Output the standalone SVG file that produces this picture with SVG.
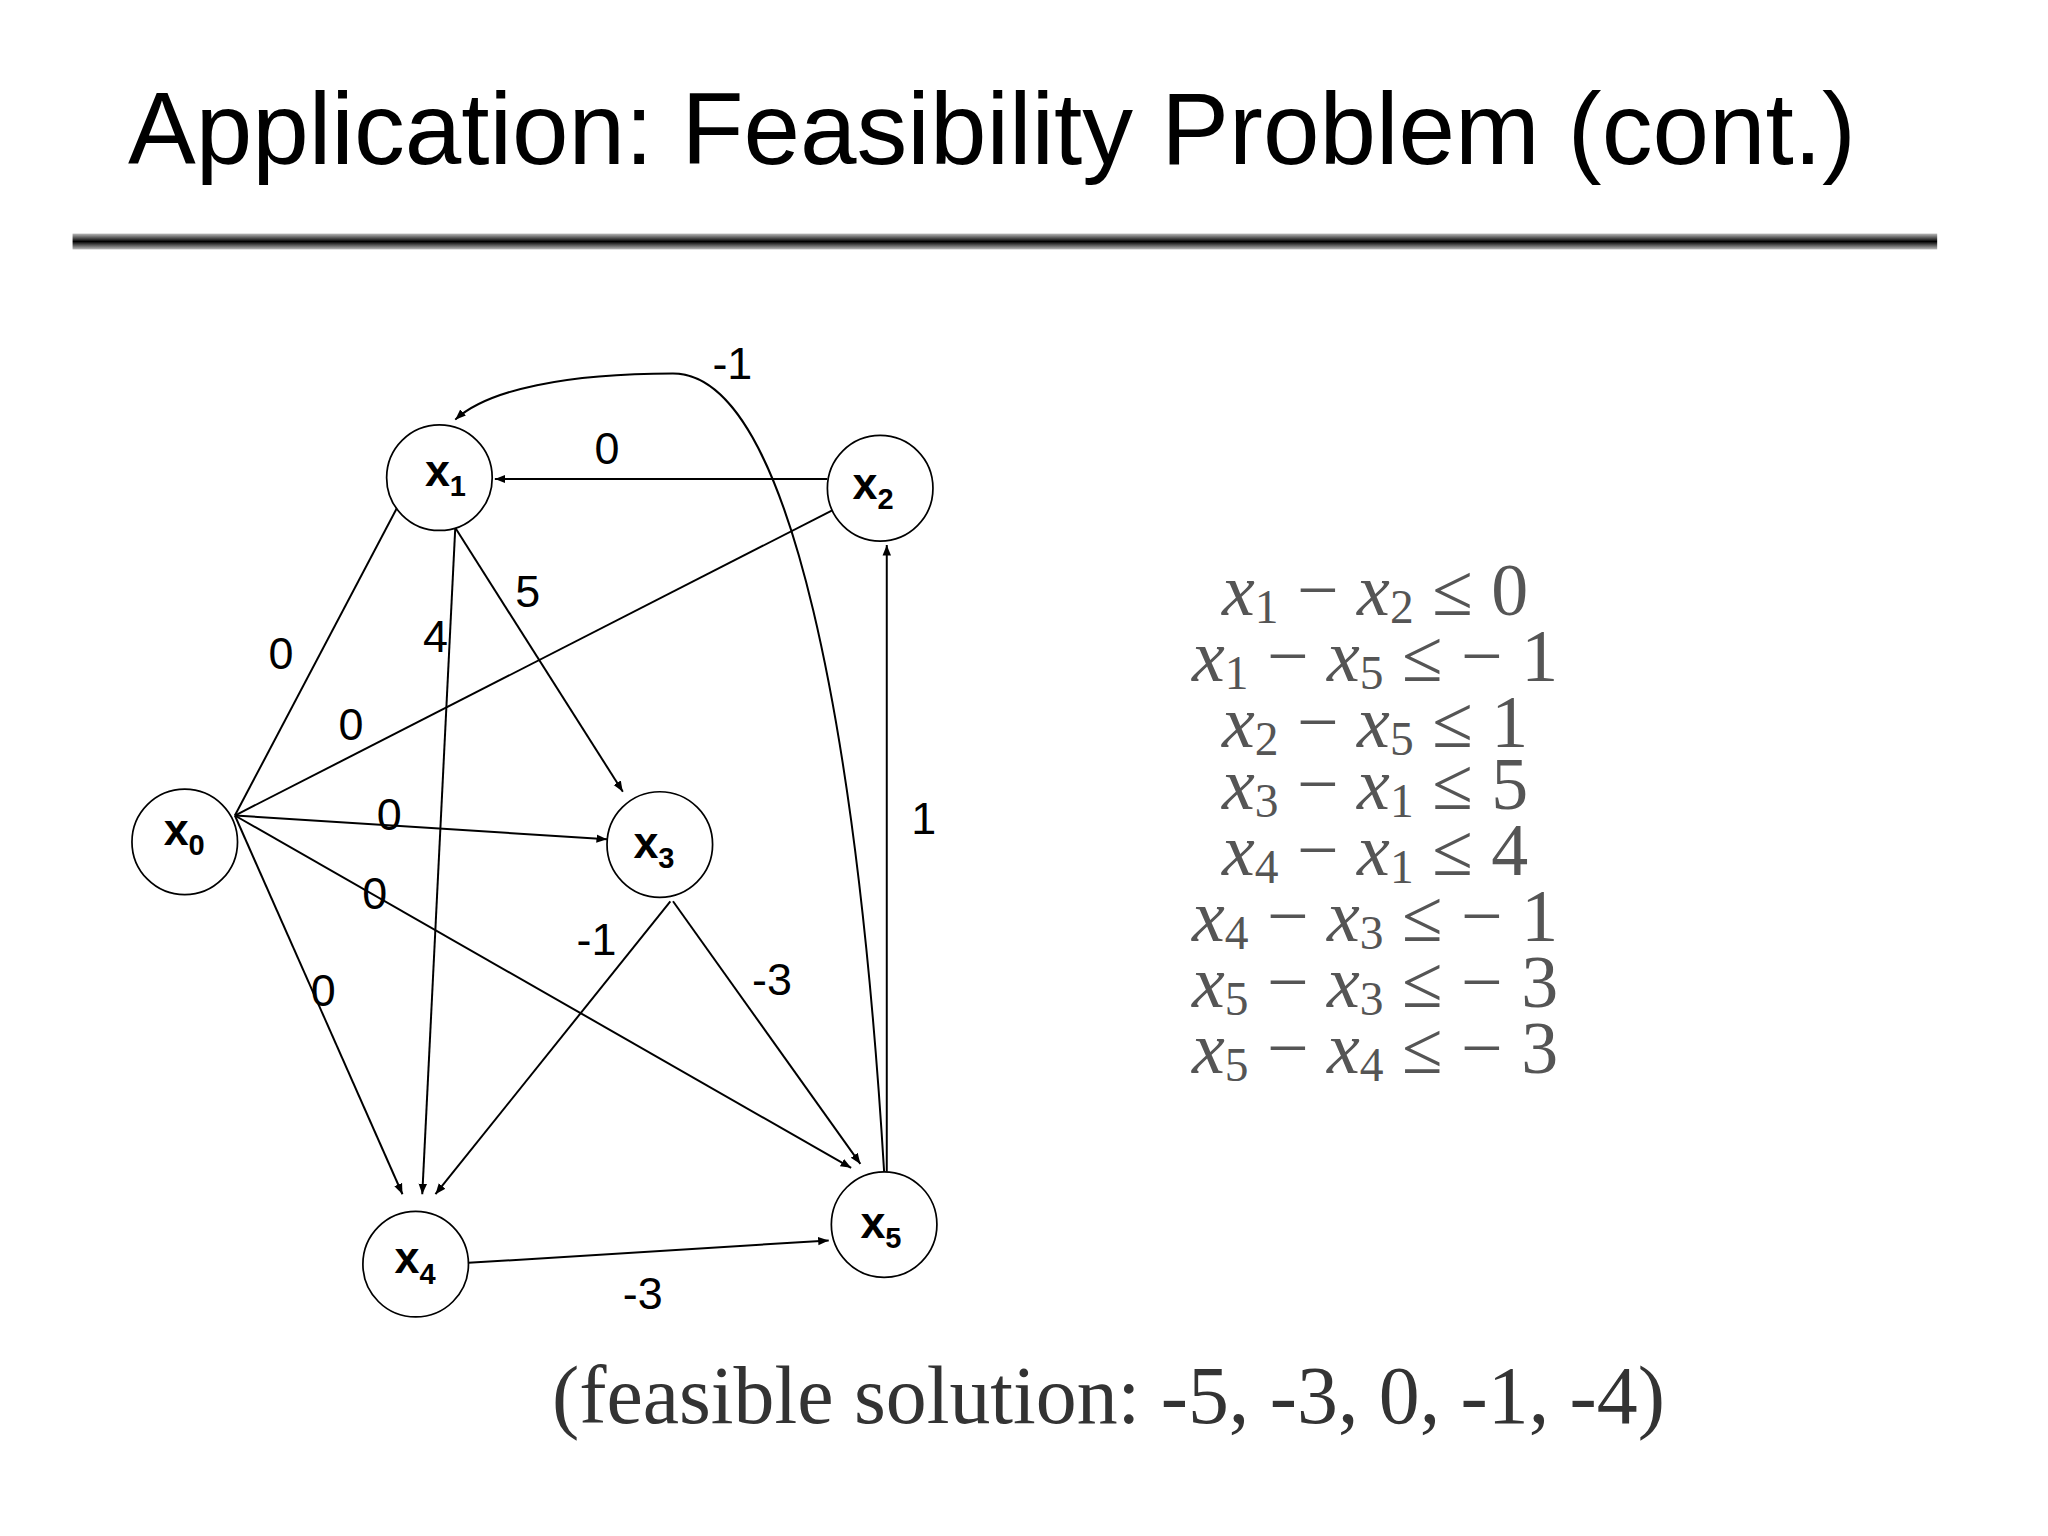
<svg xmlns="http://www.w3.org/2000/svg" width="2048" height="1536" viewBox="0 0 2048 1536">
<style>
.n{fill:#fff;stroke:#000;stroke-width:1.3}
.nl{font-family:"Liberation Sans",Arial,sans-serif;font-weight:bold;font-size:34px}
.sub{font-size:22px}
.e{fill:none;stroke:#000;stroke-width:1.5;marker-end:url(#a)}
.l{font-family:"Liberation Sans",Arial,sans-serif;font-size:34px;text-anchor:middle}
.eq{font-family:"Liberation Serif","Times New Roman",serif;font-size:56px;fill:#555;text-anchor:middle}
.s{font-size:36px}
</style>
<defs>
<marker id="a" viewBox="0 0 10 10" refX="10" refY="5" markerWidth="8" markerHeight="8" orient="auto" markerUnits="userSpaceOnUse"><path d="M0,1 L10,5 L0,9 z" fill="#000"/></marker>
<linearGradient id="bar" x1="0" y1="0" x2="0" y2="1"><stop offset="0" stop-color="#bbb"/><stop offset="0.5" stop-color="#000"/><stop offset="1" stop-color="#bbb"/></linearGradient>
</defs>
<rect width="2048" height="1536" fill="#fff"/>
<g transform="scale(1.3196)">
<text x="97" y="124" font-family="Liberation Sans,Arial,sans-serif" font-size="77">Application: Feasibility Problem (cont.)</text>
<rect x="55" y="177" width="1413" height="12" fill="url(#bar)"/>
<g id="edges">
<path class="e" d="M178,618 L305,377"/>
<path class="e" d="M178,618 L640,382"/>
<path class="e" d="M178,618 L460,636"/>
<path class="e" d="M178,618 L645,885"/>
<path class="e" d="M178,618 L305,905"/>
<path class="e" d="M627,363 L375,363"/>
<path class="e" d="M345,400 L472,600"/>
<path class="e" d="M345,400 L320,905"/>
<path class="e" d="M508,683 L330,905"/>
<path class="e" d="M510,683 L652,882"/>
<path class="e" d="M672,888 L672,413"/>
<path class="e" d="M355,957 L628,940"/>
<path class="e" d="M670,888 C650,560 600,283 510,283 C430,283 370,295 345,318"/>
</g>
<g id="x1"><circle class="n" cx="333" cy="362" r="40"/><text class="nl" x="322" y="368">x<tspan class="sub" dy="8">1</tspan></text></g>
<g id="x2"><circle class="n" cx="667" cy="370" r="40"/><text class="nl" x="646" y="378">x<tspan class="sub" dy="8">2</tspan></text></g>
<g id="x0"><circle class="n" cx="140" cy="638" r="40"/><text class="nl" x="124" y="640">x<tspan class="sub" dy="8">0</tspan></text></g>
<g id="x3"><circle class="n" cx="500" cy="640" r="40"/><text class="nl" x="480" y="650">x<tspan class="sub" dy="8">3</tspan></text></g>
<g id="x4"><circle class="n" cx="315" cy="958" r="40"/><text class="nl" x="299" y="965">x<tspan class="sub" dy="8">4</tspan></text></g>
<g id="x5"><circle class="n" cx="670" cy="928" r="40"/><text class="nl" x="652" y="938">x<tspan class="sub" dy="8">5</tspan></text></g>
<g id="labels">
<text class="l" x="555" y="287">-1</text>
<text class="l" x="460" y="352">0</text>
<text class="l" x="400" y="460">5</text>
<text class="l" x="330" y="494">4</text>
<text class="l" x="213" y="507">0</text>
<text class="l" x="266" y="561">0</text>
<text class="l" x="295" y="629">0</text>
<text class="l" x="700" y="632">1</text>
<text class="l" x="284" y="689">0</text>
<text class="l" x="452" y="724">-1</text>
<text class="l" x="585" y="754">-3</text>
<text class="l" x="245" y="762">0</text>
<text class="l" x="487" y="992">-3</text>
</g>
<g id="eqs" class="eq">
<text x="1042" y="466"><tspan font-style="italic">x</tspan><tspan class="s" dy="6">1</tspan><tspan dy="-6"> − </tspan><tspan font-style="italic">x</tspan><tspan class="s" dy="6">2</tspan><tspan dy="-6"> ≤ 0</tspan></text>
<text x="1042" y="516"><tspan font-style="italic">x</tspan><tspan class="s" dy="6">1</tspan><tspan dy="-6"> − </tspan><tspan font-style="italic">x</tspan><tspan class="s" dy="6">5</tspan><tspan dy="-6"> ≤ − 1</tspan></text>
<text x="1042" y="566"><tspan font-style="italic">x</tspan><tspan class="s" dy="6">2</tspan><tspan dy="-6"> − </tspan><tspan font-style="italic">x</tspan><tspan class="s" dy="6">5</tspan><tspan dy="-6"> ≤ 1</tspan></text>
<text x="1042" y="613"><tspan font-style="italic">x</tspan><tspan class="s" dy="6">3</tspan><tspan dy="-6"> − </tspan><tspan font-style="italic">x</tspan><tspan class="s" dy="6">1</tspan><tspan dy="-6"> ≤ 5</tspan></text>
<text x="1042" y="663"><tspan font-style="italic">x</tspan><tspan class="s" dy="6">4</tspan><tspan dy="-6"> − </tspan><tspan font-style="italic">x</tspan><tspan class="s" dy="6">1</tspan><tspan dy="-6"> ≤ 4</tspan></text>
<text x="1042" y="713"><tspan font-style="italic">x</tspan><tspan class="s" dy="6">4</tspan><tspan dy="-6"> − </tspan><tspan font-style="italic">x</tspan><tspan class="s" dy="6">3</tspan><tspan dy="-6"> ≤ − 1</tspan></text>
<text x="1042" y="763"><tspan font-style="italic">x</tspan><tspan class="s" dy="6">5</tspan><tspan dy="-6"> − </tspan><tspan font-style="italic">x</tspan><tspan class="s" dy="6">3</tspan><tspan dy="-6"> ≤ − 3</tspan></text>
<text x="1042" y="813"><tspan font-style="italic">x</tspan><tspan class="s" dy="6">5</tspan><tspan dy="-6"> − </tspan><tspan font-style="italic">x</tspan><tspan class="s" dy="6">4</tspan><tspan dy="-6"> ≤ − 3</tspan></text>
</g>
<text x="840" y="1078" font-family="Liberation Serif,Times New Roman,serif" font-size="62" fill="#333" text-anchor="middle">(feasible solution: -5, -3, 0, -1, -4)</text>
</g>
</svg>
